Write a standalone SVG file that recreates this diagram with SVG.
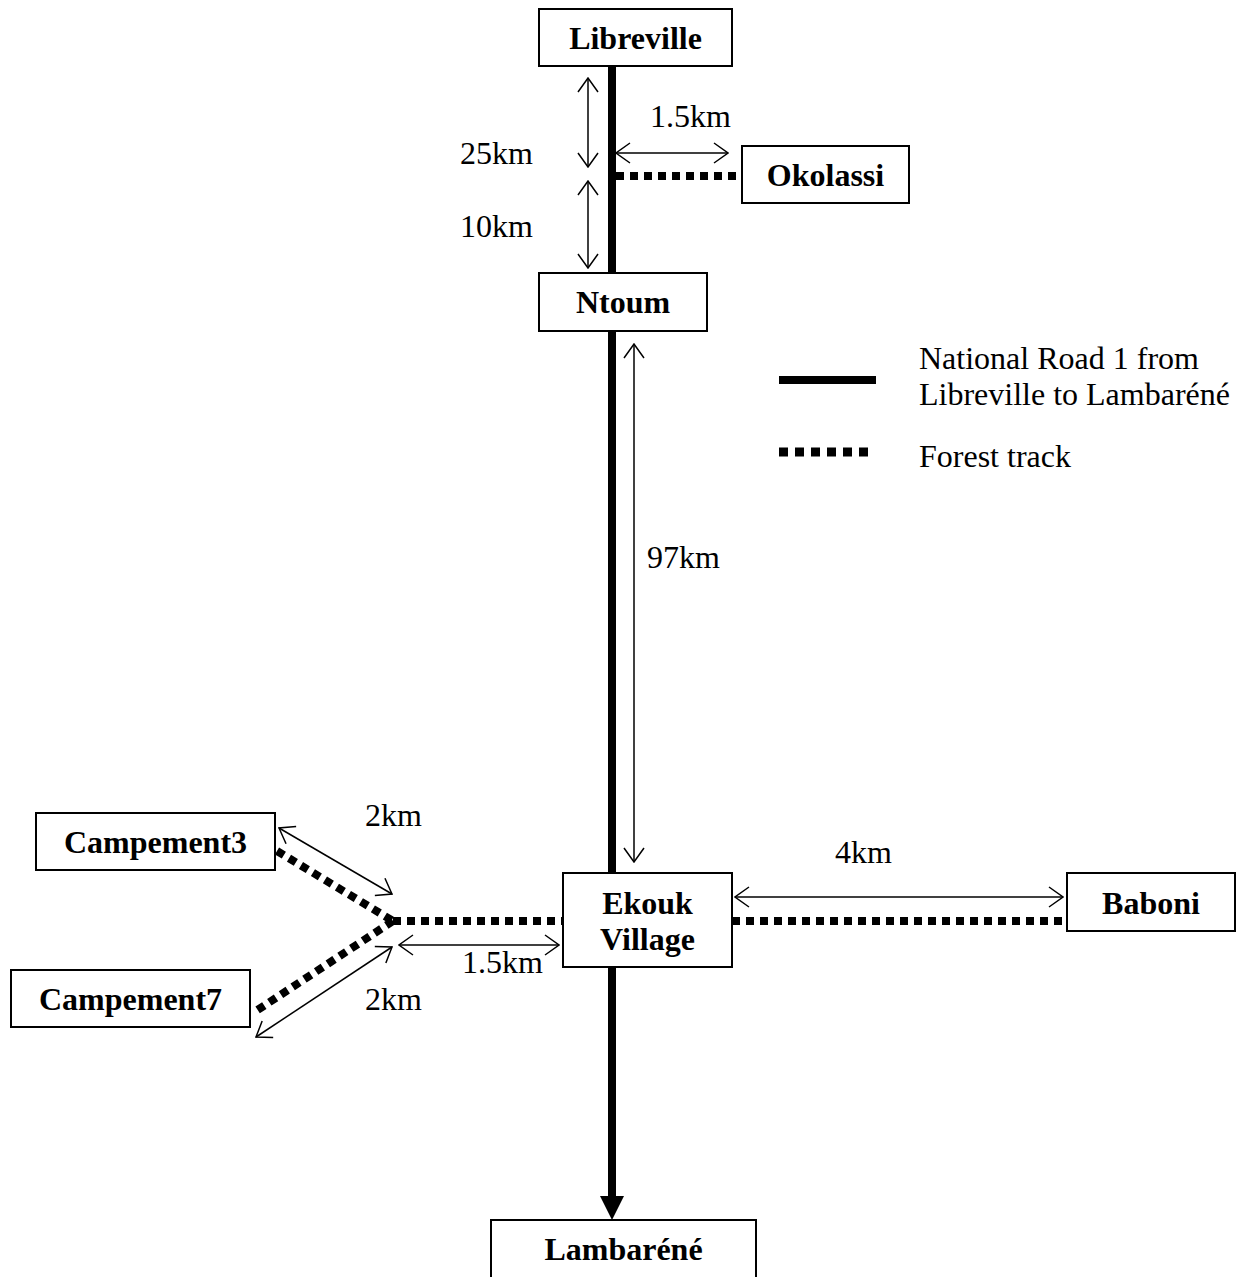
<svg xmlns="http://www.w3.org/2000/svg" width="1244" height="1277" viewBox="0 0 1244 1277">
<style>
.box{fill:#fff;stroke:#000;stroke-width:2}
.lbl{font-family:"Liberation Serif","Times New Roman",serif;font-size:32px;font-weight:bold;text-anchor:middle;fill:#000}
.txt{font-family:"Liberation Serif","Times New Roman",serif;font-size:32px;fill:#000}
.road{stroke:#000;stroke-width:8;fill:none}
.track{stroke:#000;stroke-width:8;stroke-dasharray:8 6;fill:none}
.dim{stroke:#000;stroke-width:1.5;fill:none;marker-start:url(#oa);marker-end:url(#oa)}
</style>
<defs>
<marker id="oa" viewBox="0 0 16 22" refX="15" refY="11" markerWidth="16" markerHeight="22" markerUnits="userSpaceOnUse" orient="auto-start-reverse">
<path d="M1,1 L15,11 L1,21" fill="none" stroke="#000" stroke-width="1.5"/>
</marker>
</defs>
<rect width="1244" height="1277" fill="#fff"/>
<g id="connectors">
<line class="road" x1="612" y1="66" x2="612" y2="273"/>
<line class="road" x1="612" y1="331" x2="612" y2="873"/>
<line x1="612" y1="967" x2="612" y2="1198" stroke="#000" stroke-width="8"/>
<path d="M600,1196 L624,1196 L612,1220 Z" fill="#000"/>
<line class="track" x1="616" y1="176" x2="742" y2="176"/>
<line class="track" x1="732" y1="921" x2="1067" y2="921"/>
<line class="track" x1="393" y1="921" x2="563" y2="921"/>
<line class="track" x1="277" y1="851" x2="393" y2="921"/>
<line class="track" x1="393" y1="921" x2="253" y2="1013"/>
<line class="dim" x1="588" y1="78" x2="588" y2="167"/>
<line class="dim" x1="588" y1="181" x2="588" y2="268"/>
<line class="dim" x1="616" y1="153" x2="728" y2="153"/>
<line class="dim" x1="634" y1="344" x2="634" y2="862"/>
<line class="dim" x1="735" y1="897" x2="1063" y2="897"/>
<line class="dim" x1="399" y1="945" x2="559" y2="945"/>
<line class="dim" x1="279" y1="828" x2="392" y2="894"/>
<line class="dim" x1="392" y1="947" x2="256" y2="1037"/>
</g>
<g id="libreville"><rect class="box" x="539" y="9" width="193" height="57"/><text class="lbl" x="635.5" y="49">Libreville</text></g>
<g id="okolassi"><rect class="box" x="742" y="146" width="167" height="57"/><text class="lbl" x="825.5" y="186">Okolassi</text></g>
<g id="ntoum"><rect class="box" x="539" y="273" width="168" height="58"/><text class="lbl" x="623" y="313">Ntoum</text></g>
<g id="ekouk"><rect class="box" x="563" y="873" width="169" height="94"/><text class="lbl" x="647.5" y="914">Ekouk</text><text class="lbl" x="647.5" y="950">Village</text></g>
<g id="baboni"><rect class="box" x="1067" y="873" width="168" height="58"/><text class="lbl" x="1151" y="914">Baboni</text></g>
<g id="campement3"><rect class="box" x="36" y="813" width="239" height="57"/><text class="lbl" x="155.5" y="853">Campement3</text></g>
<g id="campement7"><rect class="box" x="11" y="970" width="239" height="57"/><text class="lbl" x="130.5" y="1010">Campement7</text></g>
<g id="lambarene"><rect class="box" x="491" y="1220" width="265" height="70"/><text class="lbl" x="623.5" y="1260">Lambaréné</text></g>
<g id="labels">
<text class="txt" x="650" y="127">1.5km</text>
<text class="txt" x="460" y="164">25km</text>
<text class="txt" x="460" y="237">10km</text>
<text class="txt" x="647" y="568">97km</text>
<text class="txt" x="835" y="863">4km</text>
<text class="txt" x="365" y="826">2km</text>
<text class="txt" x="365" y="1010">2km</text>
<text class="txt" x="462" y="973">1.5km</text>
</g>
<g id="legend">
<line x1="779" y1="380" x2="876" y2="380" stroke="#000" stroke-width="8"/>
<line x1="779" y1="452" x2="870" y2="452" stroke="#000" stroke-width="9" stroke-dasharray="9 7"/>
<text class="txt" x="919" y="369">National Road 1 from</text>
<text class="txt" x="919" y="405">Libreville to Lambaréné</text>
<text class="txt" x="919" y="467">Forest track</text>
</g>
</svg>
